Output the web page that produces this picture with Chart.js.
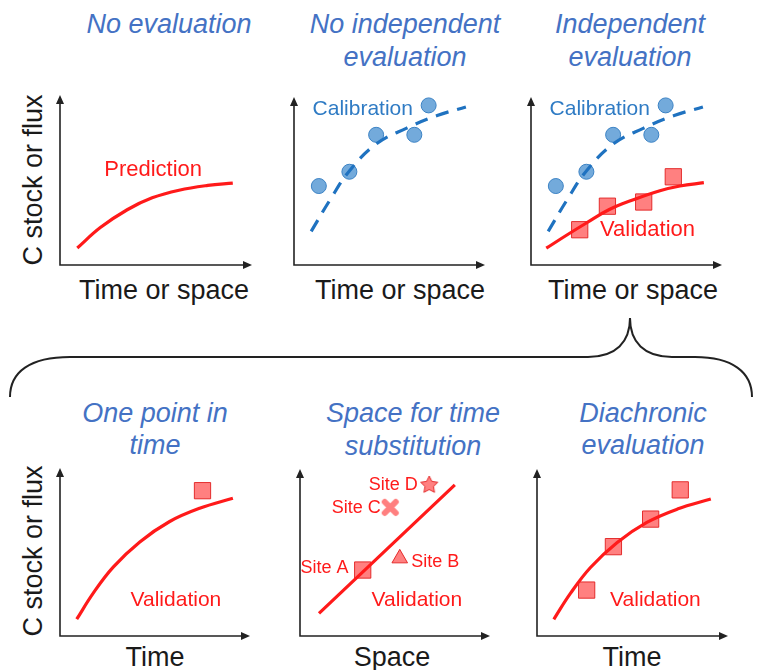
<!DOCTYPE html>
<html lang="en">
<head>
<meta charset="UTF-8">
<title>Model evaluation schemes</title>
<script src="https://cdn.jsdelivr.net/npm/chart.js@4"></script>
<style>
  body { margin: 0; background: #fff; font-family: "Liberation Sans", Arial, sans-serif; }
  .page { position: relative; width: 759px; height: 670px; overflow: hidden; }
  .page canvas { position: absolute; left: 0; top: 0; }
  .page svg { position: absolute; left: 0; top: 0; }
  .title { position: absolute; color: #4472c4; font-style: italic; font-size: 27px;
           line-height: 33px; text-align: center; transform: translateX(-50%); white-space: nowrap; }
  .xlab { position: absolute; color: #1a1a1a; font-size: 27px; transform: translate(-50%, -50%); white-space: nowrap; }
  .ylab { position: absolute; color: #1a1a1a; font-size: 27px; white-space: nowrap;
          transform: translate(-50%, -50%) rotate(-90deg); }
</style>
</head>
<body>
<div class="page">
  <svg width="759" height="670">
    <path d="M 10 397 C 10 372, 30 357, 70 357 L 588 357 C 616 357, 630 342, 630 318 C 630 342, 644 357, 672 357 L 695 357 C 732 357, 752 372, 752 397"
          fill="none" stroke="#222" stroke-width="2"/>
  </svg>

  <div class="title" style="left:169px; top:8px;">No evaluation</div>
  <div class="title" style="left:405px; top:8px;">No independent<br>evaluation</div>
  <div class="title" style="left:630px; top:8px;">Independent<br>evaluation</div>
  <div class="title" style="left:155px; top:397px; line-height:32px;">One point in<br>time</div>
  <div class="title" style="left:413px; top:397px; line-height:33px;">Space for time<br>substitution</div>
  <div class="title" style="left:643px; top:397px; line-height:32px;">Diachronic<br>evaluation</div>

  <div class="xlab" style="left:164px; top:290px;">Time or space</div>
  <div class="xlab" style="left:400px; top:290px;">Time or space</div>
  <div class="xlab" style="left:633px; top:290px;">Time or space</div>
  <div class="xlab" style="left:155px; top:657px;">Time</div>
  <div class="xlab" style="left:392px; top:657px;">Space</div>
  <div class="xlab" style="left:632px; top:657px;">Time</div>

  <div class="ylab" style="left:33px; top:180px;">C stock or flux</div>
  <div class="ylab" style="left:33px; top:551px;">C stock or flux</div>

  <canvas id="p1" width="759" height="670"></canvas>
  <canvas id="p2" width="759" height="670"></canvas>
  <canvas id="p3" width="759" height="670"></canvas>
  <canvas id="p4" width="759" height="670"></canvas>
  <canvas id="p5" width="759" height="670"></canvas>
  <canvas id="p6" width="759" height="670"></canvas>
</div>

<script>
// --- values (axes run 0..10 in every panel) ---
const predX = [0.9, 2.1, 3.5, 4.8, 6.2, 7.7, 9.0];
const predY = [1.0, 2.2, 3.25, 3.95, 4.4, 4.68, 4.82];

const calCurveX = [0.9, 1.9, 2.9, 4.3, 5.9, 7.5, 9.0];
const calCurveY = [2.0, 3.9, 5.6, 7.2, 8.15, 8.9, 9.4];
const calPtsX = [1.3, 2.9, 4.3, 6.3, 7.05];
const calPtsY = [4.7, 5.55, 7.75, 7.75, 9.5];

const valCurveX = [0.8, 1.9, 2.9, 4.1, 5.4, 6.75, 7.8, 9.05];
const valCurveY = [1.0, 1.8, 2.5, 3.3, 3.9, 4.42, 4.7, 4.9];
const valPtsX = [2.55, 4.0, 5.9, 7.45];
const valPtsY = [2.1, 3.5, 3.75, 5.25];

const timeCurveX = [0.88, 1.75, 2.8, 4.2, 5.75, 7.35, 9.1];
const timeCurveY = [1.0, 2.55, 4.1, 5.6, 6.8, 7.6, 8.2];
const onePointX = [7.5];
const onePointY = [8.65];
const diachX = [2.6, 4.0, 5.95, 7.5];
const diachY = [2.75, 5.35, 7.0, 8.75];

const sftLineX = [1.0, 8.15];
const sftLineY = [1.35, 9.05];
const sites = ['Site A', 'Site B', 'Site C', 'Site D'];
const siteX = [3.3, 5.25, 4.75, 6.8];
const siteY = [3.95, 4.65, 7.7, 9.1];

const W = 759, H = 670;
const RED = '#ff1a1a';
const RED_FILL = 'rgba(255, 60, 60, 0.65)';
const RED_EDGE = 'rgba(225, 30, 30, 0.9)';
const BLUE_LINE = '#1f72c0';
const BLUE_FILL = 'rgba(91, 155, 213, 0.85)';
const BLUE_EDGE = '#3b82c4';
const BLUE_TEXT = '#2f7bc4';
const FONT = '"Liberation Sans", Arial, sans-serif';

const pts = (xs, ys) => xs.map((x, i) => ({ x, y: ys[i] }));

// custom marker images for the star and the bold cross
function starImg(size) {
  const c = document.createElement('canvas');
  c.width = c.height = size;
  const g = c.getContext('2d');
  const r = size / 2 - 1, ri = r * 0.5;
  g.beginPath();
  for (let i = 0; i < 10; i++) {
    const a = -Math.PI / 2 + i * Math.PI / 5;
    const rr = i % 2 ? ri : r;
    g.lineTo(size / 2 + rr * Math.cos(a), size / 2 + 1 + rr * Math.sin(a));
  }
  g.closePath();
  g.fillStyle = RED_FILL; g.fill();
  g.strokeStyle = RED_EDGE; g.lineWidth = 1; g.stroke();
  return c;
}
function crossImg(size) {
  const c = document.createElement('canvas');
  c.width = c.height = size;
  const g = c.getContext('2d');
  const m = 4;
  g.strokeStyle = RED_FILL; g.lineWidth = 6; g.lineCap = 'round';
  g.beginPath();
  g.moveTo(m, m); g.lineTo(size - m, size - m);
  g.moveTo(size - m, m); g.lineTo(m, size - m);
  g.stroke();
  return c;
}

const axesPlugin = {
  id: 'axes',
  beforeDatasetsDraw(chart) {
    const { ctx, chartArea: a } = chart;
    ctx.save();
    ctx.strokeStyle = '#222'; ctx.fillStyle = '#222'; ctx.lineWidth = 1.6;
    ctx.beginPath();
    ctx.moveTo(a.left, a.top + 4); ctx.lineTo(a.left, a.bottom); ctx.lineTo(a.right - 4, a.bottom);
    ctx.stroke();
    ctx.beginPath();
    ctx.moveTo(a.left, a.top); ctx.lineTo(a.left - 4, a.top + 9); ctx.lineTo(a.left + 4, a.top + 9); ctx.closePath();
    ctx.moveTo(a.right, a.bottom); ctx.lineTo(a.right - 9, a.bottom - 4); ctx.lineTo(a.right - 9, a.bottom + 4); ctx.closePath();
    ctx.fill();
    ctx.restore();
  }
};

const notesPlugin = {
  id: 'notes',
  afterDatasetsDraw(chart, args, opts) {
    const { ctx, scales: { x, y } } = chart;
    (opts.items || []).forEach(n => {
      ctx.save();
      ctx.font = `${n.size || 21}px ${FONT}`;
      ctx.fillStyle = n.color || RED;
      ctx.textAlign = n.align || 'center';
      ctx.textBaseline = 'middle';
      ctx.fillText(n.text, x.getPixelForValue(n.x), y.getPixelForValue(n.y));
      ctx.restore();
    });
  }
};

function curve(xs, ys, color, dash) {
  return {
    data: pts(xs, ys), borderColor: color, borderWidth: 3.2, borderDash: dash || [],
    pointRadius: 0, tension: 0.4, fill: false, clip: false
  };
}
function markers(xs, ys, style, radius, fillC, edgeC) {
  return {
    data: pts(xs, ys), showLine: false, pointStyle: style, pointRadius: radius,
    backgroundColor: fillC, borderColor: edgeC, pointBorderWidth: 1, clip: false
  };
}

function panel(id, box, datasets, items) {
  new Chart(document.getElementById(id), {
    type: 'line',
    data: { datasets },
    options: {
      responsive: false, animation: false, events: [],
      layout: { padding: { left: box[0], top: box[1], right: W - box[2], bottom: H - box[3] } },
      scales: {
        x: { type: 'linear', min: 0, max: 10, display: false },
        y: { type: 'linear', min: 0, max: 10, display: false }
      },
      plugins: { legend: { display: false }, tooltip: { enabled: false }, notes: { items } }
    },
    plugins: [axesPlugin, notesPlugin]
  });
}

const calText = { text: 'Calibration', x: 3.6, y: 9.3, color: BLUE_TEXT, size: 21 };

panel('p1', [60, 95, 252, 265],
  [curve(predX, predY, RED)],
  [{ text: 'Prediction', x: 4.85, y: 5.6, size: 22 }]);

panel('p2', [294, 97, 485, 265],
  [curve(calCurveX, calCurveY, BLUE_LINE, [13, 9]),
   markers(calPtsX, calPtsY, 'circle', 7.5, BLUE_FILL, BLUE_EDGE)],
  [calText]);

panel('p3', [531, 97, 722, 265],
  [curve(calCurveX, calCurveY, BLUE_LINE, [13, 9]),
   markers(calPtsX, calPtsY, 'circle', 7.5, BLUE_FILL, BLUE_EDGE),
   curve(valCurveX, valCurveY, RED),
   markers(valPtsX, valPtsY, 'rect', 11.5, RED_FILL, RED_EDGE)],
  [calText, { text: 'Validation', x: 6.1, y: 2.1, size: 22 }]);

panel('p4', [60, 468, 250, 636],
  [curve(timeCurveX, timeCurveY, RED),
   markers(onePointX, onePointY, 'rect', 11.5, RED_FILL, RED_EDGE)],
  [{ text: 'Validation', x: 6.1, y: 2.15 }]);

panel('p5', [300, 469, 490, 636],
  [curve(sftLineX, sftLineY, RED),
   {
     data: pts(siteX, siteY), showLine: false, clip: false,
     pointStyle: ['rect', 'triangle', crossImg(19), starImg(20)],
     pointRadius: [11.5, 9, 9, 10],
     backgroundColor: RED_FILL, borderColor: RED_EDGE, pointBorderWidth: 1
   }],
  [{ text: sites[0], x: 2.55, y: 4.05, size: 18, align: 'right' },
   { text: sites[1], x: 5.85, y: 4.4, size: 18, align: 'left' },
   { text: sites[2], x: 4.25, y: 7.65, size: 18, align: 'right' },
   { text: sites[3], x: 6.2, y: 9.05, size: 18, align: 'right' },
   { text: 'Validation', x: 6.15, y: 2.15 }]);

panel('p6', [537, 469, 728, 636],
  [curve(timeCurveX, timeCurveY, RED),
   markers(diachX, diachY, 'rect', 11.5, RED_FILL, RED_EDGE)],
  [{ text: 'Validation', x: 6.2, y: 2.15 }]);
</script>
</body>
</html>
